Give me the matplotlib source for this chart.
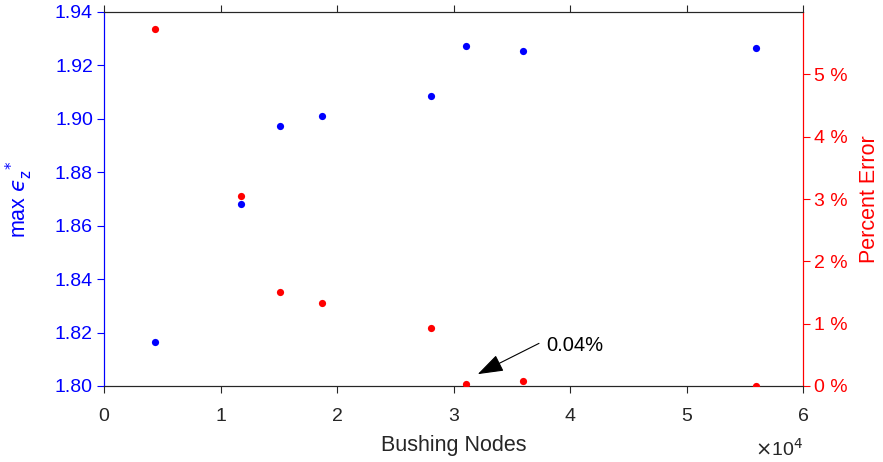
import matplotlib
matplotlib.use("Agg")
import matplotlib.pyplot as plt

plt.rcParams['font.family'] = ['Liberation Sans', 'DejaVu Sans']
plt.rcParams['mathtext.fontset'] = 'dejavusans'

nodes = [4380, 11760, 15110, 18710, 28070, 31070, 35970, 55970]
max_eps = [1.8165, 1.8681, 1.8973, 1.9011, 1.9086, 1.9273, 1.9254, 1.9265]
pct_err = [5.73, 3.05, 1.51, 1.33, 0.93, 0.04, 0.08, 0.0]

left_ticks = [1.80, 1.82, 1.84, 1.86, 1.88, 1.90, 1.92, 1.94]
right_ticks = [0, 1, 2, 3, 4, 5]
x_ticks = [0, 1, 2, 3, 4, 5, 6]

BLUE = '#0000ff'
RED = '#ff0000'
GRAY = '#262626'

fig = plt.figure(figsize=(8.83, 4.62), dpi=100)
ax = fig.add_axes([104/883, 76/462, 699/883, 374/462])
ax2 = ax.twinx()

ax.plot([n/1e4 for n in nodes], max_eps, 'o', color=BLUE, ms=5.2, mec='none', zorder=3)
ax2.plot([n/1e4 for n in nodes], pct_err, 'o', color=RED, ms=5.2, mec='none', zorder=3)

ax.set_xlim(0, 6)
ax.set_ylim(1.80, 1.94)
ax2.set_ylim(0, 6)
ax.set_xticks(x_ticks)
ax.set_xticklabels([str(t) for t in x_ticks])
ax.set_yticks(left_ticks)
ax.set_yticklabels([f'{t:.2f}' for t in left_ticks])
ax2.set_yticks(right_ticks)
ax2.set_yticklabels([f'{t} %' for t in right_ticks])

fs = 14
lfs = 15.5
ax.tick_params(axis='x', direction='out', length=5, width=0.8, color=GRAY,
               labelcolor=GRAY, labelsize=fs, top=True, pad=11)
ax.tick_params(axis='y', direction='out', length=5, width=0.8, color=BLUE,
               labelcolor=BLUE, labelsize=fs, pad=3)
ax2.tick_params(axis='y', direction='out', length=5, width=0.8, color=RED,
                labelcolor=RED, labelsize=fs, pad=3)

for a in (ax, ax2):
    a.spines['top'].set_color(GRAY)
    a.spines['bottom'].set_color(GRAY)
    a.spines['left'].set_color(BLUE)
    a.spines['right'].set_color(RED)
    for s in a.spines.values():
        s.set_linewidth(0.8)

ax.set_xlabel('Bushing Nodes', fontsize=lfs, color=GRAY, labelpad=7)
ax.set_ylabel('max $\u03f5_{\\mathrm{z}}^{\\ *}$', fontsize=lfs, color=BLUE, labelpad=14)
ax2.set_ylabel('Percent Error', fontsize=lfs, color=RED, labelpad=8)

ax.text(1.0, -0.168, r'$\times$10$^{4}$', transform=ax.transAxes, ha='right', va='center',
        fontsize=fs, color=GRAY)

ax2.text(3.80, 0.65, '0.04%', fontsize=14.5, color='black', va='center', ha='left')
ax2.annotate('', xy=(3.208, 0.19), xytext=(3.734, 0.684),
             arrowprops=dict(arrowstyle='-|>,head_length=1.6,head_width=0.55',
                             mutation_scale=10, color='black', lw=0.8,
                             shrinkA=0, shrinkB=0))

fig.savefig('out.png', dpi=100)
